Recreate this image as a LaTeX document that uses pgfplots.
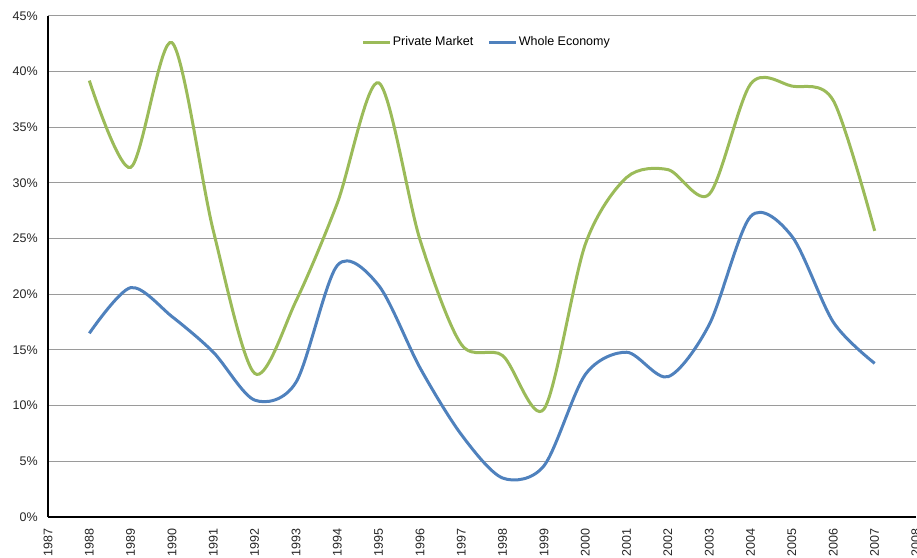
\documentclass[border=0pt]{standalone}
\usepackage{fontspec}
\setmainfont{Liberation Sans}
\usepackage{pgfplots}
\pgfplotsset{compat=1.18}

\definecolor{pmgreen}{HTML}{9BBB59}
\definecolor{weblue}{HTML}{4F81BD}
\definecolor{gridgray}{HTML}{9A9A9A}

% Share of total: private market vs whole economy, 1988-2007
\pgfplotstableread{
year private whole
1988 39.2 16.5
1989 31.4 20.6
1990 42.6 18.0
1991 25.7 14.8
1992 12.9 10.5
1993 19.4 12.1
1994 28.2 22.6
1995 39.0 20.8
1996 24.9 13.4
1997 15.5 7.4
1998 14.5 3.5
1999 9.7 4.6
2000 24.5 12.8
2001 30.5 14.8
2002 31.2 12.6
2003 29.0 17.3
2004 38.9 27.0
2005 38.7 25.2
2006 37.4 17.5
2007 25.7 13.8
}\datatable

\begin{document}
\fontsize{12.5bp}{15bp}\selectfont
\begin{tikzpicture}
\begin{axis}[
  at={(0,0)}, anchor=south west,
  scale only axis,
  width=868bp, height=501bp,
  xmin=1987, xmax=2008,
  ymin=0, ymax=45,
  axis x line*=bottom,
  axis y line*=left,
  axis line style={black, line width=1.2bp},
  xtick={1987,...,2008},
  xticklabels={1987,1988,1989,1990,1991,1992,1993,1994,1995,1996,1997,1998,1999,2000,2001,2002,2003,2004,2005,2006,2007,2008},
  ytick={0,5,...,45},
  yticklabels={0\%,5\%,10\%,15\%,20\%,25\%,30\%,35\%,40\%,45\%},
  major tick length=0pt,
  tick label style={font=\fontsize{12.5bp}{15bp}\selectfont, text=black!85},
  xticklabel style={rotate=90, anchor=east},
  xticklabel shift=7bp,
  yticklabel shift=6bp,
  ymajorgrids,
  grid style={gridgray, line width=1bp},
  legend style={at={(0.505,0.948)}, anchor=center, draw=none, fill=none,
    font=\fontsize{12.5bp}{15bp}\selectfont,
    nodes={inner sep=1.2bp},
    /tikz/every even column/.append style={column sep=13bp}},
  legend columns=2,
  legend cell align=left,
  legend image code/.code={\draw[#1] (0bp,0bp) -- (27bp,0bp);},
]
\addplot[pmgreen, line width=3bp, smooth, no markers] table[x=year, y=private] {\datatable};
\addlegendentry{Private Market}
\addplot[weblue, line width=3bp, smooth, no markers] table[x=year, y=whole] {\datatable};
\addlegendentry{Whole Economy}
\end{axis}
\pgfresetboundingbox
\path[use as bounding box] (-48bp,-41bp) rectangle (869bp,517bp);
\end{tikzpicture}
\end{document}
